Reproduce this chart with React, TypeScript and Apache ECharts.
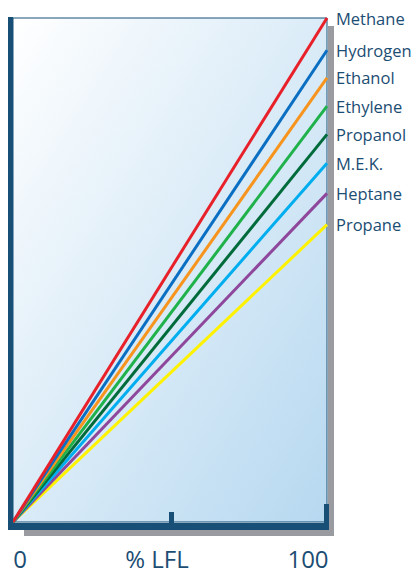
import React, { useEffect, useRef } from "react";
import * as echarts from "echarts";

const gases = ["Methane", "Hydrogen", "Ethanol", "Ethylene", "Propanol", "M.E.K.", "Heptane", "Propane"];
const endValues = [100, 93.6, 88.1, 82.5, 76.9, 71.2, 65.2, 59.0];
const colors = ["#e8202a", "#0a6fc2", "#f7941d", "#1fb14a", "#006b3a", "#00aeef", "#8e479b", "#fff200"];
const xTickLabels = ["0", "% LFL", "100"];

const AXIS = "#174f76";
const TEXT = "#1c4d73";

export default function App() {
  const ref = useRef<HTMLDivElement>(null);
  useEffect(() => {
    const chart = echarts.init(ref.current!, null, { renderer: "svg" });
    const series = gases.map((g, i) => ({
      name: g,
      type: "line",
      data: [
        [0, 0],
        [100, endValues[i]],
      ],
      showSymbol: false,
      clip: false,
      lineStyle: { color: colors[i], width: 3 },
      itemStyle: { color: colors[i] },
      endLabel: {
        show: true,
        formatter: "{a}",
        distance: 9,
        color: TEXT,
        fontSize: 16.5,
        fontFamily: "Open Sans",
      },
      z: 10 - i,
    }));
    const bottomText = (txt: string, x: number) => ({
      type: "text",
      x,
      y: 570,
      style: {
        text: txt,
        fill: TEXT,
        fontSize: 24,
        fontFamily: "Open Sans",
        align: "center",
        verticalAlign: "bottom",
      },
    });
    chart.setOption({
      animation: false,
      grid: {
        left: 13,
        top: 18,
        right: 89,
        bottom: 51,
        show: true,
        borderWidth: 1,
        borderColor: AXIS,
        backgroundColor: new echarts.graphic.LinearGradient(0, 0, 1, 1, [
          { offset: 0, color: "#ffffff" },
          { offset: 1, color: "#b6d8f0" },
        ]),
      },
      xAxis: { type: "value", min: 0, max: 100, show: false },
      yAxis: { type: "value", min: 0, max: 100, show: false },
      series,
      graphic: [
        { type: "rect", shape: { x: 24, y: 530, width: 310, height: 6 }, style: { fill: "#9a9ba0" }, z: -1 },
        { type: "rect", shape: { x: 328, y: 26, width: 6, height: 510 }, style: { fill: "#9a9ba0" }, z: -1 },
        { type: "rect", shape: { x: 8, y: 17, width: 5, height: 513 }, style: { fill: AXIS }, z: 20 },
        { type: "rect", shape: { x: 8, y: 523, width: 321, height: 7 }, style: { fill: AXIS }, z: 20 },
        { type: "rect", shape: { x: 169, y: 512, width: 5, height: 12 }, style: { fill: AXIS }, z: 20 },
        { type: "rect", shape: { x: 324, y: 504, width: 5, height: 20 }, style: { fill: AXIS }, z: 20 },
        bottomText(xTickLabels[0], 20),
        bottomText(xTickLabels[1], 157),
        bottomText(xTickLabels[2], 308),
      ],
    });
    return () => chart.dispose();
  }, []);
  return <div ref={ref} style={{ width: 416, height: 573, position: "absolute", left: 0, top: 0 }} />;
}
